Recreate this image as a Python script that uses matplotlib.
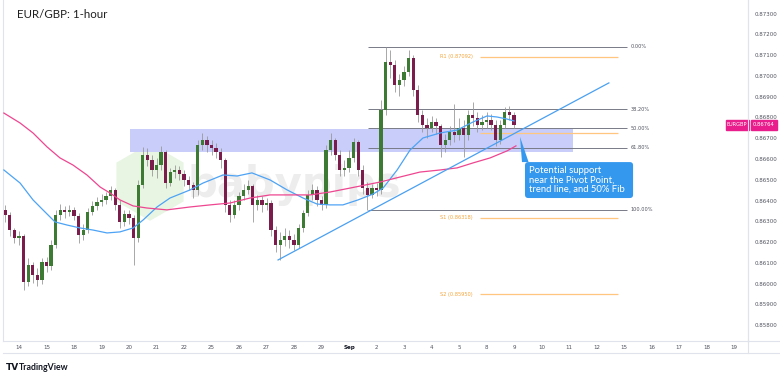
import numpy as np
import matplotlib.pyplot as plt
from matplotlib.patches import Rectangle, Polygon, FancyBboxPatch, RegularPolygon
from matplotlib.lines import Line2D

# EUR/GBP 4-hour blocks, first bar = Aug 13 12:00
first_open = 0.86354
close = [0.86330, 0.86258, 0.86220, 0.86229, 0.86008, 0.86090, 0.86042, 0.86018, 0.86104, 0.86085,
         0.86186, 0.86330, 0.86354, 0.86345, 0.86354, 0.86326, 0.86234, 0.86258, 0.86345, 0.86374,
         0.86393, 0.86403, 0.86422, 0.86451, 0.86379, 0.86297, 0.86335, 0.86316, 0.86220, 0.86475,
         0.86619, 0.86595, 0.86547, 0.86571, 0.86634, 0.86484, 0.86537, 0.86547, 0.86528, 0.86499,
         0.86475, 0.86451, 0.86667, 0.86691, 0.86667, 0.86653, 0.86634, 0.86595, 0.86379, 0.86330,
         0.86379, 0.86422, 0.86451, 0.86470, 0.86379, 0.86403, 0.86379, 0.86388, 0.86258, 0.86186,
         0.86210, 0.86229, 0.86210, 0.86186, 0.86268, 0.86340, 0.86427, 0.86451, 0.86403, 0.86379,
         0.86643, 0.86691, 0.86619, 0.86547, 0.86557, 0.86605, 0.86682, 0.86547, 0.86460, 0.86427,
         0.86460, 0.86451, 0.86836, 0.87067, 0.87052, 0.86956, 0.86980, 0.87019, 0.87086, 0.86932,
         0.86812, 0.86763, 0.86749, 0.86778, 0.86759, 0.86667, 0.86691, 0.86730, 0.86715, 0.86749,
         0.86715, 0.86812, 0.86797, 0.86763, 0.86778, 0.86788, 0.86763, 0.86691, 0.86763, 0.86826,
         0.86812, 0.86764]
high = [0.86379, 0.86345, 0.86268, 0.86253, 0.86239, 0.86124, 0.86104, 0.86075, 0.86124, 0.86128,
        0.86210, 0.86354, 0.86383, 0.86374, 0.86379, 0.86369, 0.86340, 0.86287, 0.86364, 0.86398,
        0.86417, 0.86431, 0.86441, 0.86470, 0.86460, 0.86403, 0.86354, 0.86354, 0.86330, 0.86499,
        0.86658, 0.86653, 0.86619, 0.86605, 0.86662, 0.86643, 0.86557, 0.86571, 0.86566, 0.86547,
        0.86518, 0.86489, 0.86691, 0.86725, 0.86711, 0.86691, 0.86677, 0.86653, 0.86605, 0.86403,
        0.86403, 0.86441, 0.86480, 0.86499, 0.86480, 0.86427, 0.86422, 0.86412, 0.86403, 0.86277,
        0.86249, 0.86268, 0.86258, 0.86239, 0.86287, 0.86354, 0.86451, 0.86480, 0.86470, 0.86422,
        0.86667, 0.86725, 0.86701, 0.86643, 0.86595, 0.86643, 0.86701, 0.86691, 0.86571, 0.86489,
        0.86480, 0.86484, 0.86884, 0.87140, 0.87124, 0.87076, 0.87009, 0.87047, 0.87124, 0.87100,
        0.86956, 0.86836, 0.86797, 0.86807, 0.86797, 0.86768, 0.86720, 0.86759, 0.86865, 0.86797,
        0.86788, 0.86836, 0.86874, 0.86826, 0.86812, 0.86826, 0.86816, 0.86788, 0.86788, 0.86850,
        0.86855, 0.86826]
low = [0.86297, 0.86229, 0.86196, 0.86186, 0.85970, 0.85989, 0.86003, 0.85989, 0.85998, 0.86056,
       0.86066, 0.86172, 0.86306, 0.86316, 0.86326, 0.86306, 0.86196, 0.86210, 0.86244, 0.86330,
       0.86354, 0.86374, 0.86383, 0.86403, 0.86354, 0.86268, 0.86277, 0.86287, 0.86090, 0.86200,
       0.86460, 0.86566, 0.86518, 0.86508, 0.86547, 0.86460, 0.86470, 0.86508, 0.86499, 0.86470,
       0.86451, 0.86412, 0.86427, 0.86643, 0.86634, 0.86619, 0.86605, 0.86557, 0.86345, 0.86297,
       0.86316, 0.86354, 0.86403, 0.86431, 0.86297, 0.86354, 0.86345, 0.86354, 0.86229, 0.86152,
       0.86114, 0.86181, 0.86172, 0.86162, 0.86172, 0.86249, 0.86326, 0.86403, 0.86374, 0.86354,
       0.86364, 0.86619, 0.86595, 0.86518, 0.86518, 0.86537, 0.86585, 0.86518, 0.86431, 0.86354,
       0.86412, 0.86422, 0.86431, 0.86812, 0.86990, 0.86922, 0.86903, 0.86951, 0.86999, 0.86903,
       0.86778, 0.86730, 0.86701, 0.86730, 0.86720, 0.86610, 0.86634, 0.86667, 0.86682, 0.86691,
       0.86610, 0.86691, 0.86759, 0.86730, 0.86739, 0.86749, 0.86739, 0.86662, 0.86672, 0.86749,
       0.86788, 0.86749]

# moving averages (trading-day position, price)
ma_blue_t = [-0.55, 0.04, 0.51, 0.87, 1.31, 1.75, 2.22, 2.69, 3.20, 3.67, 4.15, 4.51, 5.02, 5.49,
             6.22, 6.69, 7.42, 7.93, 8.47, 9.13, 9.75, 10.33, 10.84, 11.31, 11.78, 12.33, 12.87,
             13.24, 13.75, 14.22, 14.69, 15.31, 15.93, 16.51, 17.02, 17.38, 17.75, 18.00]
ma_blue = [0.86547, 0.86484, 0.86403, 0.86355, 0.86297, 0.86282, 0.86268, 0.86258, 0.86244, 0.86249,
           0.86268, 0.86306, 0.86369, 0.86412, 0.86451, 0.86484, 0.86523, 0.86518, 0.86533, 0.86499,
           0.86451, 0.86412, 0.86383, 0.86379, 0.86379, 0.86403, 0.86431, 0.86460, 0.86547, 0.86643,
           0.86701, 0.86725, 0.86739, 0.86778, 0.86807, 0.86802, 0.86792, 0.86783]
ma_pink_t = [-0.55, 0.04, 0.51, 1.02, 1.49, 1.96, 2.47, 2.95, 3.31, 3.67, 4.15, 4.65, 5.38, 6.22,
             6.95, 7.67, 8.40, 9.13, 9.85, 10.58, 11.31, 12.04, 13.13, 13.85, 14.58, 15.31, 15.93,
             16.51, 17.13, 17.75, 18.07]
ma_pink = [0.86821, 0.86773, 0.86725, 0.86658, 0.86605, 0.86571, 0.86523, 0.86465, 0.86436, 0.86403,
           0.86374, 0.86364, 0.86355, 0.86369, 0.86379, 0.86388, 0.86412, 0.86427, 0.86427, 0.86427,
           0.86441, 0.86460, 0.86489, 0.86513, 0.86537, 0.86547, 0.86557, 0.86581, 0.86605, 0.86639,
           0.86663]

day_labels = ['14', '15', '18', '19', '20', '21', '22', '25', '26', '27', '28', '29', 'Sep',
              '2', '3', '4', '5', '8', '9', '10', '11', '12', '15', '16', '17', '18', '19']
price_ticks = [0.858, 0.859, 0.860, 0.861, 0.862, 0.863, 0.864, 0.865, 0.866, 0.867, 0.868,
               0.869, 0.870, 0.871, 0.872, 0.873]

fib_high, fib_low = 0.87140, 0.86355
fib_ratios = [0.0, 0.382, 0.5, 0.618, 1.0]
fib_names = ['0.00%', '38.20%', '50.00%', '61.80%', '100.00%']
pivot_names = ['R1 (0.87092)', 'S1 (0.86318)', 'S2 (0.85950)']
pivot_levels = [0.87092, 0.86318, 0.85950]
pivot_p = 0.86724
zone = (4.04, 20.15, 0.86632, 0.86743)
trend = ([9.42, 21.45], [0.86114, 0.86966])
last_price = 0.86764

W, H = 780, 378
fig = plt.figure(figsize=(W / 100, H / 100), dpi=100)

def fx(x):
    return x / W

def fy(y):
    return 1 - y / H

ax = fig.add_axes([fx(3), fy(341), (748 - 3) / W, 341 / H])
ax.set_xlim(-0.582, 26.509)
ax.set_ylim(0.85724, 0.87365)

# watermark
ax.text(10.0, 0.86475, 'babypips', fontsize=30, fontweight='bold', color='#ededed',
        ha='center', va='center', zorder=0.5, family='DejaVu Sans')
hexa = RegularPolygon((1.50, 1.96), numVertices=6, radius=0.38, orientation=0,
                      transform=fig.dpi_scale_trans, color='#e8f5e3', zorder=0.4)
ax.add_patch(hexa)

# zone
ax.add_patch(Rectangle((zone[0], zone[2]), zone[1] - zone[0], zone[3] - zone[2],
                       facecolor='#c9cdfa', edgecolor='none', zorder=1))

# candles
n = len(close)
pos = np.arange(n) / 6 - 0.5
opn = np.r_[first_open, close[:-1]]
cls = np.array(close)
ax.vlines(pos, low, high, color='#9a9a9a', lw=0.6, zorder=3)
up = cls >= opn
body = np.where(np.abs(cls - opn) < 0.00003, 0.00003, cls - opn)
ax.bar(pos, body, bottom=opn, width=0.12, color=np.where(up, '#3d7a33', '#7a1c4c'),
       edgecolor='none', zorder=4)

# moving averages
ax.plot(ma_blue_t, ma_blue, color='#4da3f5', lw=0.9, zorder=5)
ax.plot(ma_pink_t, ma_pink, color='#ee4690', lw=0.9, zorder=5)

# trend line
ax.plot(trend[0], trend[1], color='#4aa0f0', lw=0.9, zorder=5)

# fibonacci retracement
for r, name in zip(fib_ratios, fib_names):
    lvl = fib_high - r * (fib_high - fib_low)
    ax.hlines(lvl, 12.69, 22.11, color='#787b86', lw=0.7, zorder=2)
    ax.text(22.25, lvl, name, fontsize=3.6, va='center', ha='left', color='#50535e')

# pivot points
for name, lvl in zip(pivot_names, pivot_levels):
    ax.hlines(lvl, 16.76, 21.78, color='#ffc680', lw=0.9, zorder=2)
    ax.text(16.51, lvl, name, fontsize=3.6, va='center', ha='right', color='#f5a43a')
ax.hlines(pivot_p, 16.76, 21.78, color='#ffc680', lw=0.9, zorder=2)

# callout
box = FancyBboxPatch((18.40, 0.86412), 22.33 - 18.40, 0.86585 - 0.86412,
                     boxstyle='round,pad=0,rounding_size=0.12', mutation_aspect=0.00004812 * 27.5,
                     facecolor='#3498ee', edgecolor='none', zorder=6)
ax.add_patch(box)
ax.add_patch(Polygon([[18.22, 0.86706], [18.29, 0.86585], [18.53, 0.86585]],
                     closed=True, facecolor='#3498ee', edgecolor='none', zorder=6))
ax.text(18.55, 0.86499, 'Potential support\nnear the Pivot Point,\ntrend line, and 50% Fib',
        fontsize=6.8, color='white', va='center', ha='left', linespacing=1.05,
        family='Lato', zorder=7)

# axes styling
ax.yaxis.tick_right()
ax.set_yticks(price_ticks)
ax.set_yticklabels(['%.5f' % p for p in price_ticks])
ax.tick_params(axis='y', length=0, pad=4.5, labelsize=4.0, labelcolor='#50535e')
ax.set_xticks(range(len(day_labels)))
ax.set_xticklabels(day_labels)
ax.tick_params(axis='x', length=0, pad=3.2, labelsize=4.0, labelcolor='#50535e')
for lab in ax.get_xticklabels():
    if lab.get_text() == 'Sep':
        lab.set_fontweight('bold')
        lab.set_color('#131722')
for s in ['left', 'right', 'bottom']:
    ax.spines[s].set_color('#e0e3eb')
    ax.spines[s].set_linewidth(0.8)
ax.spines['top'].set_visible(False)

fig.add_artist(Line2D([fx(748), 1], [fy(341), fy(341)], color='#e0e3eb', lw=0.8))
fig.add_artist(Line2D([fx(3), 1], [fy(353), fy(353)], color='#e0e3eb', lw=0.8))
fig.add_artist(Line2D([fx(748), fx(748)], [fy(341), fy(353)], color='#e0e3eb', lw=0.8))
fig.add_artist(Line2D([fx(748), fx(748)], [fy(0), fy(341)], color='#e0e3eb', lw=0.8))

# price tag
fig.add_artist(Rectangle((fx(725.5), fy(129.5)), 23.5 / W, 9.5 / H, color='#e91e8c'))
fig.add_artist(Rectangle((fx(750.5), fy(129.5)), 26.5 / W, 9.5 / H, color='#e91e8c'))
fig.text(fx(737.2), fy(124.8), 'EURGBP', fontsize=3.6, color='white', ha='center', va='center')
fig.text(fx(763.7), fy(124.8), '%.5f' % last_price, fontsize=3.8, color='white',
         ha='center', va='center')

# title and logo
fig.text(fx(17), fy(14), 'EUR/GBP: 1-hour', fontsize=8.3, color='#1f1f1f', va='center',
         ha='left', family='Lato')
fig.text(fx(6), fy(367), 'TV', fontsize=6.5, fontweight='bold', color='#131722',
         va='center', ha='left')
fig.text(fx(19), fy(367), 'TradingView', fontsize=6.3, fontweight='bold', color='#131722',
         va='center', ha='left', family='Lato')

fig.savefig('out.png', dpi=100)
